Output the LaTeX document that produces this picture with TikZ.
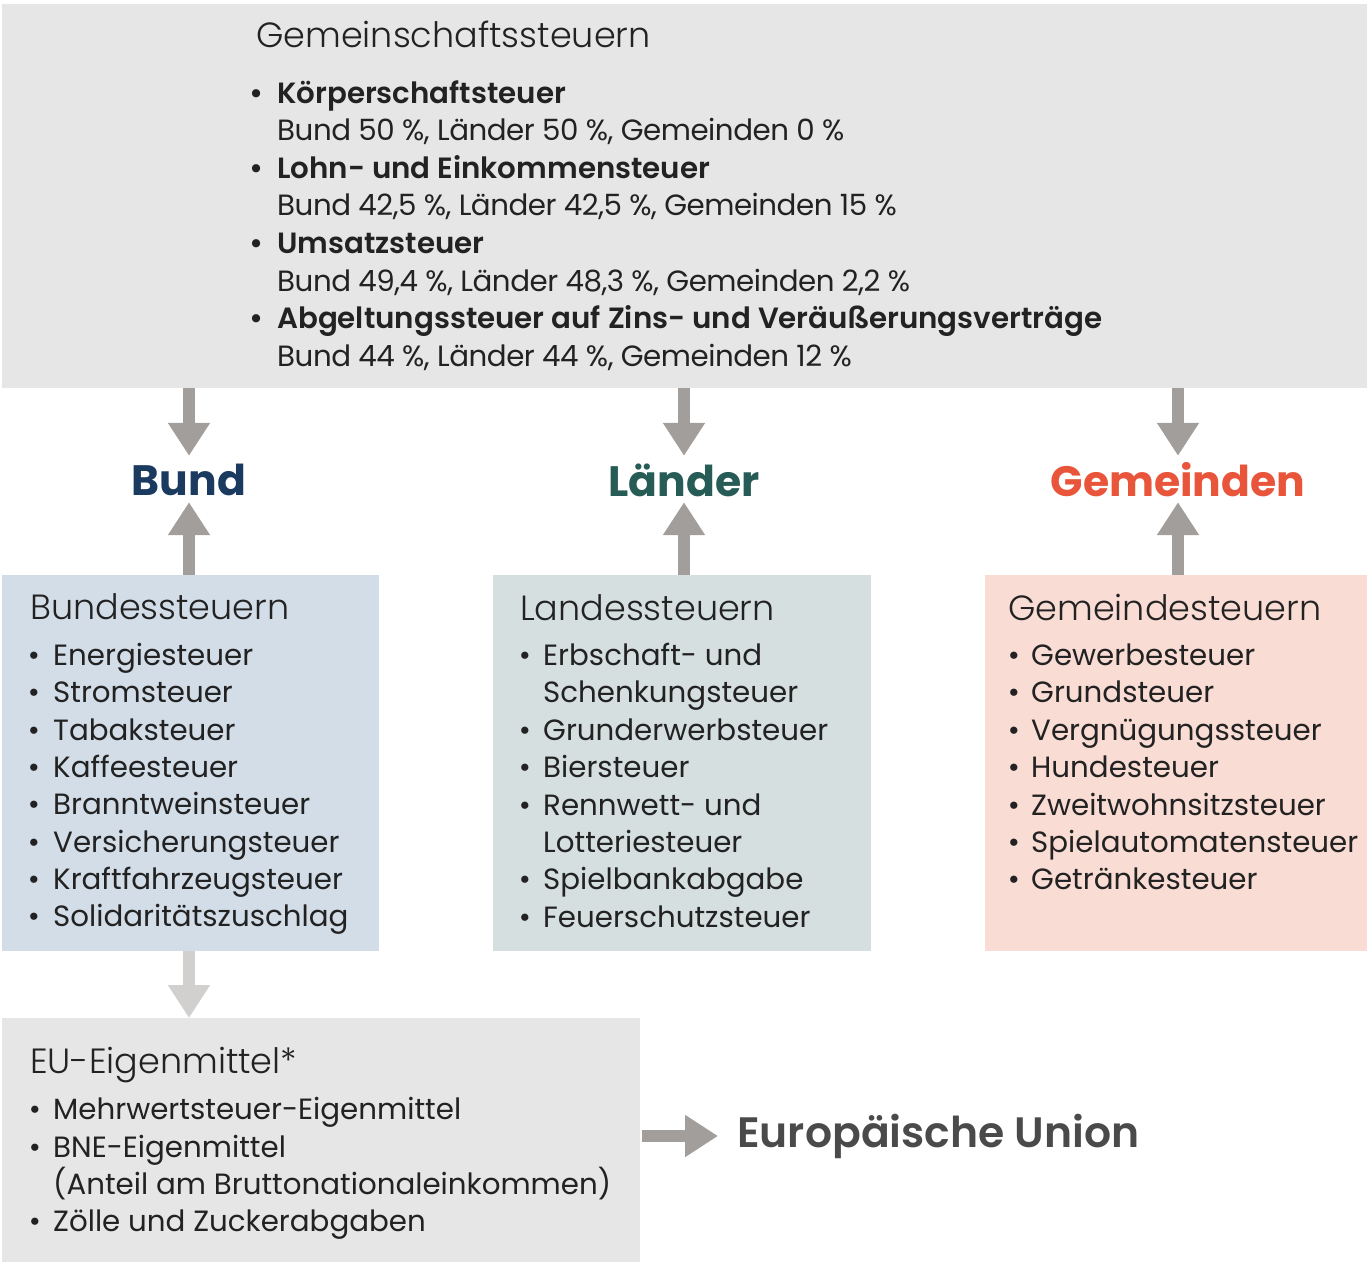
\documentclass[tikz,border=0pt]{standalone}
\usepackage{fontspec}
\setmainfont{Poppins}[BoldFont={Poppins SemiBold}]
\newfontfamily\poplight{Poppins Light}
\newfontfamily\popbold{Poppins Bold}
\usetikzlibrary{arrows.meta}
\definecolor{topgray}{HTML}{E6E6E6}
\definecolor{bundbox}{HTML}{D3DDE8}
\definecolor{landbox}{HTML}{D5DFDF}
\definecolor{gembox}{HTML}{F9DCD4}
\definecolor{arrgray}{HTML}{A19E9B}
\definecolor{arrlight}{HTML}{D1D0CE}
\definecolor{textdark}{HTML}{222222}
\definecolor{bundcol}{HTML}{1B3A60}
\definecolor{landcol}{HTML}{265B56}
\definecolor{gemcol}{HTML}{E9553A}
\definecolor{eucol}{HTML}{4A4A4A}
\tikzset{
  panel/.style={draw=none, anchor=north west, inner sep=0pt},
  txt/.style={anchor=west, inner sep=0pt, text height=0.72em, text depth=0.22em,
    font=\fontsize{29.3pt}{35pt}\selectfont, text=textdark, yshift=-8pt},
  tight/.style={txt, font=\fontsize{29.3pt}{35pt}\selectfont\addfontfeature{LetterSpace=-1.6}},
  bul/.style={txt, anchor=center},
  ttl/.style={txt, font=\poplight\fontsize{35pt}{42pt}\selectfont, yshift=-2pt},
  lbl/.style={inner sep=0pt, minimum height=50pt, font=\popbold\fontsize{42.5pt}{50pt}\selectfont},
  arr/.style={draw=arrgray, line width=12pt, -{Triangle[width=40pt,length=33pt]}},
  arrl/.style={arr, draw=arrlight}
}
\begin{document}
\begin{tikzpicture}[x=1pt,y=-1pt]
\useasboundingbox (0,0) rectangle (1367,1265);
% panels
\node[panel, fill=topgray, minimum width=1365pt, minimum height=384pt] (top) at (2,4) {};
\node[panel, fill=bundbox, minimum width=377pt, minimum height=376pt] (bbox) at (2,575) {};
\node[panel, fill=landbox, minimum width=378pt, minimum height=376pt] (lbox) at (493,575) {};
\node[panel, fill=gembox, minimum width=382pt, minimum height=376pt] (gbox) at (985,575) {};
\node[panel, fill=topgray, minimum width=638pt, minimum height=244pt] (ebox) at (2,1018) {};

% top box text
\node[ttl] (gtitle) at (256,35) {Gemeinschaftssteuern};
\foreach \t/\s [count=\i] in {
  K\"orperschaftsteuer/{Bund 50 \%, L\"ander 50 \%, Gemeinden 0 \%},
  Lohn- und Einkommensteuer/{Bund 42,5 \%, L\"ander 42,5 \%, Gemeinden 15 \%},
  Umsatzsteuer/{Bund 49,4 \%, L\"ander 48,3 \%, Gemeinden 2,2 \%},
  Abgeltungssteuer auf Zins- und Ver\"au\ss{}erungsvertr\"age/{Bund 44 \%, L\"ander 44 \%, Gemeinden 12 \%}}{
  \pgfmathsetmacro{\yy}{93+(\i-1)*75}
  \node[bul] (tb\i) at (257,\yy) {\textbf{•}};
  \node[txt] (tt\i) at (277,\yy) {\textbf{\t}};
  \node[tight] (ts\i) at (277,\yy+37.5) {\s};
}

% labels
\node[lbl, text=bundcol] (bund) at (189,480) {Bund};
\node[lbl, text=landcol] (land) at (684,480) {Länder};
\node[lbl, text=gemcol] (gem) at (1178,480) {Gemeinden};

% arrows
\draw[arr] (top.south -| bund) -- ([yshift=-1pt]bund.north);
\draw[arr] (top.south -| land) -- ([yshift=-1pt]land.north);
\draw[arr] (top.south -| gem) -- ([yshift=-1pt]gem.north);
\draw[arr] (bbox.north -| bund) -- ([yshift=3pt]bund.south);
\draw[arr] (lbox.north -| land) -- ([yshift=3pt]land.south);
\draw[arr] (gbox.north -| gem) -- ([yshift=3pt]gem.south);

% Bundessteuern
\node[ttl] (btitle) at (30,607) {Bundessteuern};
\foreach \t [count=\i] in {Energiesteuer,Stromsteuer,Tabaksteuer,Kaffeesteuer,
  Branntweinsteuer,Versicherungsteuer,Kraftfahrzeugsteuer,Solidaritätszuschlag}{
  \pgfmathsetmacro{\yy}{655+(\i-1)*37.3}
  \node[bul] (bb\i) at (34,\yy) {•};
  \node[txt] (bt\i) at (53,\yy) {\t};
}

% Landessteuern
\node[ttl] (ltitle) at (520,608) {Landessteuern};
\foreach \t/\b [count=\i] in {Erbschaft- und/1,Schenkungsteuer/0,Grunderwerbsteuer/1,
  Biersteuer/1,Rennwett- und/1,Lotteriesteuer/0,Spielbankabgabe/1,Feuerschutzsteuer/1}{
  \pgfmathsetmacro{\yy}{655+(\i-1)*37.4}
  \ifnum\b=1 \node[bul] (lb\i) at (525,\yy) {•}; \fi
  \node[txt] (lt\i) at (543,\yy) {\t};
}

% Gemeindesteuern
\node[ttl] (gtitle2) at (1008,608) {Gemeindesteuern};
\foreach \t [count=\i] in {Gewerbesteuer,Grundsteuer,Vergnügungssteuer,Hundesteuer,
  Zweitwohnsitzsteuer,Spielautomatensteuer,Getränkesteuer}{
  \pgfmathsetmacro{\yy}{655+(\i-1)*37.4}
  \node[bul] (gb\i) at (1014,\yy) {•};
  \node[txt] (gt\i) at (1031,\yy) {\t};
}

% EU
\draw[arrl] (bbox.south -| bund) -- (ebox.north -| bund);
\node[ttl] (etitle) at (30,1061) {EU-Eigenmittel*};
\node[bul] (eb1) at (35,1109) {•};
\node[txt] (et1) at (53,1109) {Mehrwertsteuer-Eigenmittel};
\node[bul] (eb2) at (35,1147) {•};
\node[txt] (et2) at (53,1147) {BNE-Eigenmittel};
\node[txt] (et3) at (53,1184) {(Anteil am Bruttonationaleinkommen)};
\node[bul] (eb4) at (35,1221) {•};
\node[txt] (et4) at (53,1221) {Zölle und Zuckerabgaben};

\node[anchor=west, inner sep=0pt, text=eucol, font=\bfseries\fontsize{42.5pt}{50pt}\selectfont] (eu) at (737,1136) {Europäische Union};
\draw[arr] ([xshift=2pt]ebox.east |- eu) -- ([xshift=-19pt]eu.west);
\end{tikzpicture}
\end{document}
